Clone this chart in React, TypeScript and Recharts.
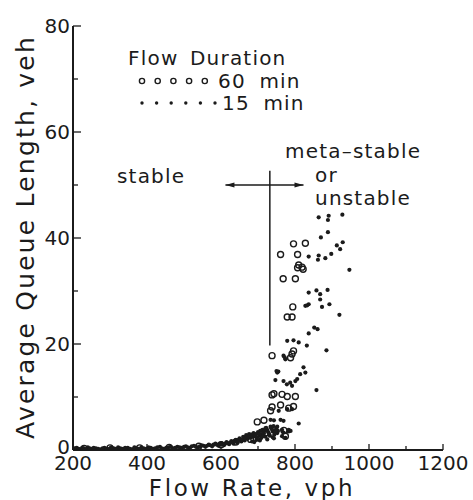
import React from "react";
import {
  ScatterChart,
  Scatter,
  XAxis,
  YAxis,
  ReferenceLine,
  Customized,
} from "recharts";

// 60 min runs (open circles)
const flow60 = [
  230, 300, 380, 460, 540, 600, 640, 680, 700, 720,
  698, 716, 734, 738, 738, 743, 765, 761, 779, 801, 783, 796, 770, 774,
  738, 792, 796, 788,
  779, 792, 794,
  768, 801, 807, 810, 819, 822, 761, 807, 796, 828,
];
const queue60 = [
  0.3, 0.4, 0.4, 0.5, 0.7, 1.0, 1.5, 2.0, 2.6, 3.2,
  5.3, 5.6, 7.4, 8.1, 10.4, 10.6, 10.5, 8.5, 10.1, 10.1, 7.9, 8.2, 3.7, 2.6,
  17.8, 18.1, 18.7, 17.4,
  25.1, 25.1, 27.0,
  32.3, 32.3, 34.4, 34.9, 34.5, 34.1, 36.9, 36.9, 38.9, 39.0,
];

// 15 min runs (small dots), the dense band near the axis first
const flow15 = [
  200, 210, 220, 230, 240, 250, 262, 275, 285, 298, 310, 322, 335, 348, 360,
  372, 385, 398, 410, 422, 435, 446, 458, 470, 482, 494, 505, 516, 527, 538,
  548, 558, 567, 576, 585, 593, 601, 608, 615, 622, 628, 634, 640, 645, 650,
  655, 660, 664, 668, 672, 676, 680, 684, 688, 692, 696, 700, 704, 708, 712,
  716, 720, 724, 728, 732, 736, 740, 744, 748, 752,
  205, 215, 225, 235, 245, 256, 268, 280, 291, 304, 316, 328, 341, 354, 366,
  378, 391, 404, 416, 428, 440, 452, 464, 476, 488, 500, 510, 521, 532, 543,
  553, 562, 571, 580, 589, 597, 604, 611, 618, 625, 631, 637, 643, 648, 653,
  658, 662, 666, 670, 674, 678, 682, 686, 690, 694, 698, 702, 706, 710, 714,
  718, 722, 726, 730, 734, 738, 742, 746, 750, 754, 690, 705, 725, 740,
  720, 747, 769, 783, 774, 765, 752, 765, 783, 788, 743, 810,
  734, 743, 761, 769, 779, 792, 756,
  747, 769, 778, 787, 801, 806, 792, 858, 752, 755, 750, 823, 828, 814,
  769, 774, 772, 779, 796, 810, 832, 885,
  852, 861, 837, 828, 837, 833, 873, 893, 920, 868,
  837, 858, 868, 888, 837, 864, 862, 882, 898, 947,
  870, 889, 913, 922, 929, 864, 891, 889, 928,
];
const queue15 = [
  0.2, 0.4, 0.1, 0.3, 0.5, 0.2, 0.3, 0.1, 0.4, 0.2, 0.3, 0.5, 0.2, 0.4, 0.1,
  0.3, 0.5, 0.2, 0.4, 0.3, 0.6, 0.2, 0.5, 0.3, 0.6, 0.4, 0.7, 0.4, 0.8, 0.5,
  0.9, 0.6, 1.0, 0.7, 1.2, 0.8, 1.3, 0.9, 1.5, 1.1, 1.7, 1.2, 1.9, 1.4, 2.2,
  1.6, 2.5, 1.8, 2.8, 2.1, 3.0, 2.3, 1.6, 3.2, 2.6, 1.9, 3.4, 2.8, 2.2, 3.8,
  3.1, 2.5, 3.9, 3.3, 2.7, 4.1, 3.5, 2.9, 3.8, 3.2,
  0.3, 0.2, 0.4, 0.1, 0.3, 0.4, 0.2, 0.3, 0.2, 0.5, 0.2, 0.3, 0.4, 0.2, 0.5,
  0.2, 0.3, 0.5, 0.2, 0.5, 0.3, 0.4, 0.6, 0.4, 0.5, 0.6, 0.5, 0.7, 0.6, 0.7,
  0.8, 0.8, 0.9, 1.0, 1.0, 1.1, 1.1, 1.2, 1.3, 1.4, 1.5, 1.6, 1.7, 1.9, 1.9,
  2.0, 2.2, 2.3, 2.5, 2.6, 2.7, 2.9, 2.5, 2.9, 3.0, 2.4, 3.1, 3.6, 3.0, 2.6,
  3.6, 4.2, 3.6, 3.0, 4.4, 3.8, 4.5, 3.3, 4.2, 3.6, 1.5, 1.8, 2.0, 2.4,
  4.1, 3.6, 3.3, 3.5, 2.3, 2.6, 4.4, 3.8, 3.8, 3.6, 2.2, 5.0,
  5.7, 5.6, 5.7, 5.5, 7.7, 7.7, 7.4,
  13.2, 13.0, 12.4, 12.7, 13.0, 13.4, 12.1, 11.3, 14.6, 14.8, 14.9, 15.6, 14.6, 14.3,
  17.8, 17.1, 17.5, 20.6, 20.7, 20.3, 19.7, 18.8,
  23.1, 22.8, 22.0, 27.2, 27.5, 27.3, 27.0, 27.5, 25.5, 28.4,
  29.7, 30.1, 29.4, 30.2, 36.5, 36.7, 35.9, 36.2, 37.0, 34.0,
  40.1, 41.1, 38.6, 37.9, 39.2, 43.9, 44.2, 43.4, 44.4,
];

const xTicks = [200, 300, 400, 500, 600, 700, 800, 900, 1000, 1100, 1200];
const yTicks = [0, 10, 20, 30, 40, 50, 60, 70, 80];

const data60 = flow60.map((f, i) => ({ flow: f, queue: queue60[i] }));
const data15 = flow15.map((f, i) => ({ flow: f, queue: queue15[i] }));

const ink = "#1b1b1b";
const font = "'DejaVu Sans', sans-serif";

function XTick(props: any) {
  const { x, y, payload } = props;
  const major = payload.value % 200 === 0;
  return (
    <g>
      <line x1={x} y1={y} x2={x} y2={y - (major ? 6 : 4)} stroke={ink} strokeWidth={1.3} />
      {major && (
        <text x={x} y={y + 20} textAnchor="middle" fontSize={20} fill={ink} fontFamily={font}>
          {payload.value}
        </text>
      )}
    </g>
  );
}

function YTick(props: any) {
  const { x, y, payload } = props;
  const major = payload.value % 20 === 0;
  return (
    <g>
      <line x1={x} y1={y} x2={x + (major ? 8 : 5)} y2={y} stroke={ink} strokeWidth={1.3} />
      {major && (
        <text x={x - 3} y={y + (payload.value === 0 ? 4 : 7)} textAnchor="end" fontSize={20} fill={ink} fontFamily={font}>
          {payload.value}
        </text>
      )}
    </g>
  );
}

function ArrowLine(props: any) {
  const { x1, y1, x2, y2 } = props;
  return (
    <g>
      <line x1={x1} y1={y1} x2={x2} y2={y2} stroke={ink} strokeWidth={1.5} />
      <polygon points={`${x1},${y1} ${x1 + 9},${y1 - 2.5} ${x1 + 9},${y1 + 2.5}`} fill={ink} />
      <polygon points={`${x2},${y2} ${x2 - 9},${y2 - 2.5} ${x2 - 9},${y2 + 2.5}`} fill={ink} />
    </g>
  );
}

function Annotations() {
  const txt = { fontFamily: font, fill: ink, letterSpacing: 1.2 };
  return (
    <g>
      <text x={128} y={65} fontSize={20} {...txt} wordSpacing={4}>Flow Duration</text>
      {[0, 1, 2, 3, 4].map((i) => (
        <circle key={i} cx={142 + i * 15.7} cy={81} r={2.6} fill="none" stroke={ink} strokeWidth={1.4} />
      ))}
      <text x={218} y={88} fontSize={20} {...txt} wordSpacing={6}>60 min</text>
      {[0, 1, 2, 3, 4, 5].map((i) => (
        <circle key={i} cx={142 + i * 14.6} cy={103} r={1.7} fill={ink} />
      ))}
      <text x={222} y={110} fontSize={20} {...txt} wordSpacing={6}>15 min</text>
      <text x={117} y={183} fontSize={20} {...txt}>stable</text>
      <text x={285} y={158} fontSize={20} {...txt}>meta–stable</text>
      <text x={315} y={182} fontSize={20} {...txt}>or</text>
      <text x={315} y={205} fontSize={20} {...txt}>unstable</text>
      <text
        x={25}
        y={237}
        transform="rotate(-90 25 237)"
        textAnchor="middle"
        dominantBaseline="central"
        fontSize={25}
        fontFamily={font}
        fill={ink}
        letterSpacing={2.2}
      >
        Average Queue Length, veh
      </text>
      <text x={252} y={496} textAnchor="middle" fontSize={23} fontFamily={font} fill={ink} letterSpacing={2.6}>
        Flow Rate, vph
      </text>
    </g>
  );
}

export default function App() {
  return (
    <div style={{ position: "absolute", left: 0, top: 0, width: 473, height: 500, background: "#fff" }}>
      <ScatterChart width={473} height={500} margin={{ top: 26, right: 30, bottom: 0, left: 0 }}>
        <XAxis
          type="number"
          dataKey="flow"
          domain={[200, 1200]}
          ticks={xTicks}
          interval={0}
          height={50}
          tickSize={0}
          tickMargin={0}
          tickLine={false}
          axisLine={{ stroke: ink, strokeWidth: 2 }}
          tick={<XTick />}
          allowDataOverflow
        />
        <YAxis
          type="number"
          dataKey="queue"
          domain={[0, 80]}
          ticks={yTicks}
          interval={0}
          width={73}
          tickSize={0}
          tickMargin={0}
          tickLine={false}
          axisLine={{ stroke: ink, strokeWidth: 2 }}
          tick={<YTick />}
          allowDataOverflow
        />
        <ReferenceLine
          segment={[{ x: 732, y: 19.7 }, { x: 732, y: 52.7 }]}
          stroke={ink}
          strokeWidth={1.5}
        />
        <ReferenceLine
          segment={[{ x: 612, y: 50 }, { x: 823, y: 50 }]}
          shape={<ArrowLine />}
        />
        <Scatter
          name="15 min"
          data={data15}
          isAnimationActive={false}
          shape={(p: any) => <circle cx={p.cx} cy={p.cy} r={2.1} fill={ink} />}
        />
        <Scatter
          name="60 min"
          data={data60}
          isAnimationActive={false}
          shape={(p: any) => (
            <circle cx={p.cx} cy={p.cy} r={3} fill="none" stroke={ink} strokeWidth={1.4} />
          )}
        />
        <Customized component={Annotations} />
      </ScatterChart>
    </div>
  );
}
